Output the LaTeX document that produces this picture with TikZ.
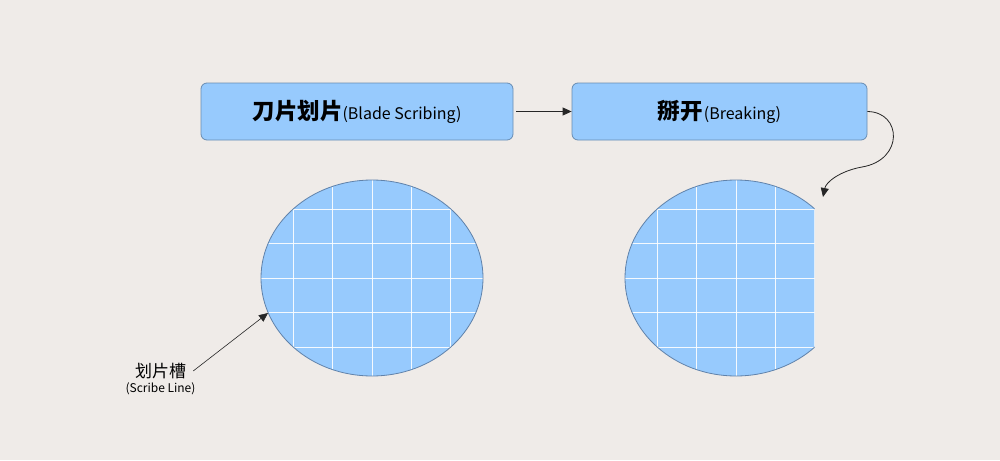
\documentclass[tikz,border=0pt]{standalone}
\usepackage{fontspec}
\setmainfont{Noto Sans CJK SC}
\usepackage{tikz}
\usetikzlibrary{arrows.meta,calc,positioning}

\definecolor{bgcol}{RGB}{239,235,232}
\definecolor{boxfill}{RGB}{151,202,253}
\definecolor{boxline}{RGB}{104,140,178}
\definecolor{wafline}{RGB}{96,130,170}

\tikzset{
  stepbox/.style={draw=boxline, fill=boxfill, rounded corners=6pt, line width=0.8pt,
                  minimum height=57, inner sep=0pt},
  flow/.style={-{Triangle[length=9pt,width=8pt]}, line width=0.8pt, black!85},
  grid line/.style={white, line width=1pt, opacity=0.9}
}

\begin{document}
\begin{tikzpicture}[x=1pt, y=-1pt]
            % background and fixed size
            \fill[bgcol] (0,0) rectangle (1000,460);
            \useasboundingbox (0,0) rectangle (1000,460);

            % process steps
            \node[stepbox, minimum width=312] (scribe) at (357,111.5)
                {{\bfseries\fontsize{22.5}{25}\selectfont 刀片划片}{\fontsize{16}{20}\selectfont(Blade Scribing)}};
            \node[stepbox, minimum width=295] (break) at (719.5,111.5)
                {{\bfseries\fontsize{22.5}{25}\selectfont 掰开}\hspace{1pt}{\fontsize{16}{20}\selectfont(Breaking)}};
            \draw[flow] (scribe.east) ++(3,0) coordinate (s1) (s1) -- (break.west);

            % curved arrow down to the broken wafer
            \coordinate (tip) at (823,197);
            \draw[flow] (break.east) .. controls (902,112) and (904,160) .. (862,167)
                .. controls (840,171) and (826,182) .. (tip);

            % left wafer with scribe lines
            \coordinate (wl) at (372,278);
            \fill[boxfill] (wl) ellipse [x radius=111, y radius=98];
            \begin{scope}
                \clip (wl) ellipse [x radius=111, y radius=98];
                \foreach \i in {-2,...,2} {
                    \draw[grid line] ($(wl)+(\i*39.3,-110)$) -- ++(0,220);
                    \draw[grid line] ($(wl)+(-120,\i*34.5)$) -- ++(240,0);
                }
            \end{scope}
            \draw[wafline, line width=0.8pt] (wl) ellipse [x radius=111, y radius=98];

            % right wafer, broken off at the edge
            \coordinate (wr) at (736,278);
            \begin{scope}
                \clip (600,150) rectangle (814.5,400);
                \fill[boxfill] (wr) ellipse [x radius=111, y radius=98];
                \begin{scope}
                    \clip (wr) ellipse [x radius=111, y radius=98];
                    \foreach \i in {-2,...,2} {
                        \draw[grid line] ($(wr)+(\i*39.3,-110)$) -- ++(0,220);
                        \draw[grid line] ($(wr)+(-120,\i*34.5)$) -- ++(240,0);
                    }
                \end{scope}
                \draw[wafline, line width=0.8pt] (wr) ellipse [x radius=111, y radius=98];
            \end{scope}

            % scribe line label
            \node[inner sep=2pt] (scrcn) at (160.5,371) {\fontsize{17}{19}\selectfont 划片槽};
            \node[inner sep=0pt, below=1pt of scrcn] (scren) {\fontsize{12}{14}\selectfont(Scribe Line)};
            \coordinate (edge) at (268,313);
            \draw[flow, line width=0.6pt] ($(scrcn.east)+(5,0)$) coordinate (lab) (lab) -- (edge);

\end{tikzpicture}
\end{document}
